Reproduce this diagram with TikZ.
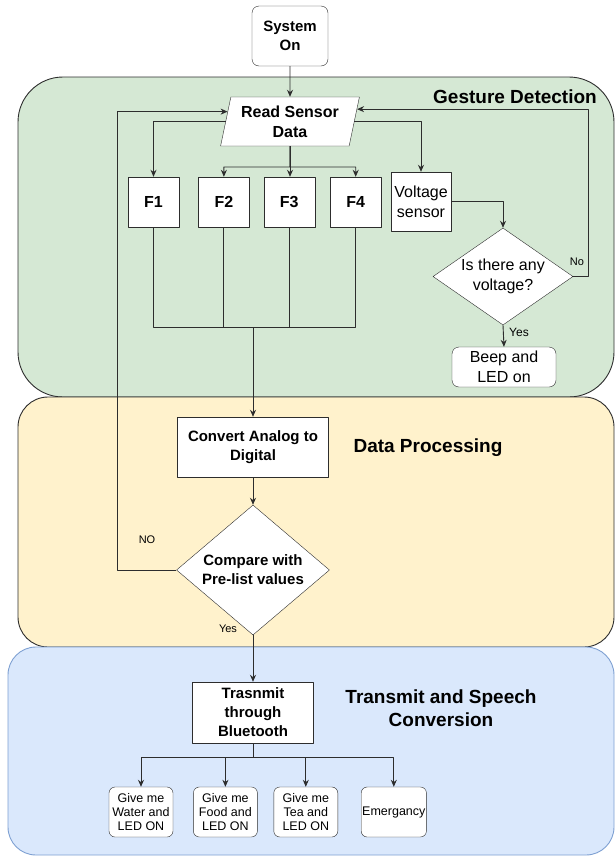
\documentclass[tikz,border=0pt]{standalone}
\usepackage{fontspec}
\setmainfont{Liberation Sans}
\usetikzlibrary{
  shapes.geometric,
  arrows.meta,
  positioning, calc
}
\definecolor{zonegreen}{RGB}{213,232,212}
\definecolor{zoneyellow}{RGB}{255,242,204}
\definecolor{zoneblue}{RGB}{218,232,252}
\definecolor{zonebluedraw}{RGB}{126,160,210}
\definecolor{edgegray}{RGB}{45,45,45}
\tikzset{
  basebox/.style={rectangle,draw=edgegray,fill=white,align=center,inner sep=1pt,
    font=\fontsize{15}{19}\selectfont\bfseries},
  roundbox/.style={basebox,rounded corners=7pt},
  plainbox/.style={basebox,font=\fontsize{16}{20}\selectfont},
  fbox/.style={basebox,minimum width=51pt,minimum height=50pt,font=\fontsize{16}{19}\selectfont\bfseries},
  givebox/.style={basebox,rounded corners=6pt,minimum width=64pt,minimum height=50pt,
    font=\fontsize{12.5}{14.3}\selectfont},
  iobox/.style={trapezium,trapezium left angle=75,trapezium right angle=105,
    trapezium stretches=true,
    draw=edgegray,fill=white,align=center,inner sep=0pt,
    font=\fontsize{16}{20}\selectfont\bfseries},
  decbox/.style={diamond,draw=edgegray,fill=white,align=center,inner sep=0pt},
  zonetitle/.style={align=center,font=\fontsize{19}{23}\selectfont\bfseries},
  lbl/.style={inner sep=0pt,font=\fontsize{11}{13}\selectfont},
  line/.style={draw=edgegray,line width=0.9pt},
  arr/.style={line,-{Stealth[length=7pt,width=6pt]}}
}

\begin{document}
\begin{tikzpicture}[x=1pt,y=-1pt,line join=round]
  \useasboundingbox (0,0) rectangle (615,857);
  % zones
  \draw[fill=zonegreen,draw=edgegray,line width=0.9pt,rounded corners=45pt] (18,77) rectangle (614,397);
  \draw[fill=zoneyellow,draw=edgegray,line width=0.9pt,rounded corners=30pt] (18,397) rectangle (614,647);
  \draw[fill=zoneblue,draw=zonebluedraw,line width=0.9pt,rounded corners=28pt] (8,647) rectangle (614,855);
  \node[zonetitle] (gtitle) at (515,97) {Gesture Detection};
  \node[zonetitle] (dtitle) at (428,448) {Data Processing};
  \node[zonetitle] (ttitle) at (441,708) {Transmit and Speech\\Conversion};

  % gesture detection
  \node[roundbox,minimum width=76pt,minimum height=60pt] (sys) at (290,36) {System\\On};
  \node[iobox,minimum width=139pt,minimum height=49pt] (read) at (290,121.5) {Read Sensor\\Data};
  \node[fbox] (f1) at (153.5,202) {F1};
  \node[fbox,right=19pt of f1] (f2) {F2};
  \node[fbox,right=14pt of f2] (f3) {F3};
  \node[fbox,right=15pt of f3] (f4) {F4};
  \node[plainbox,minimum width=60pt,minimum height=59pt,inner sep=0pt] (volt) at (421,201.5) {Voltage\\sensor};
  \node[decbox,aspect=1.44,minimum width=140pt,minimum height=97pt,
    font=\fontsize{16}{20}\selectfont] (ask) at (503,276.5) {Is there any\\voltage?};
  \node[plainbox,rounded corners=7pt,minimum width=104pt,minimum height=40pt] (beep) at (504,367) {Beep and\\LED on};

  % data processing
  \node[basebox,minimum width=151pt,minimum height=60pt] (conv) at (253,447) {Convert Analog to\\Digital};
  \node[decbox,aspect=1.18,minimum width=153pt,minimum height=130pt,
    font=\fontsize{15}{19}\selectfont\bfseries] (cmp) at (253,570) {Compare with\\Pre-list values};

  % transmit
  \node[basebox,minimum width=121pt,minimum height=61pt] (tx) at (253,712.5) {Trasnmit\\through\\Bluetooth};
  \node[givebox] (g1) at (141,812) {Give me\\Water and\\LED ON};
  \node[givebox,right=20pt of g1] (g2) {Give me\\Food and\\LED ON};
  \node[givebox,right=16pt of g2] (g3) {Give me\\Tea and\\LED ON};
  \node[givebox,right=23pt of g3] (g4) {Emergancy};

  \coordinate (fsplit) at (290,167);
  \coordinate (fjoin) at (253,327);
  \coordinate (gsplit) at (253,757);

  \draw[arr] (sys) -- (read);
  \draw[arr] (read.west) -| (f1.north);
  \foreach \f in {f2,f4} \draw[arr] (read.south) -- (fsplit) -| (\f.north);
  \draw[arr] (read.south) -- (read.south |- f3.north);
  \draw[arr] (read.east) -| (volt.north);
  \draw[arr] (volt.east) -| (ask.north);
  \draw[arr] (ask.east) -- ++(15,0) |- ($(read.top right corner)!0.25!(read.bottom right corner)$);
  \draw[arr] (ask.south) -- (beep.north);
  \foreach \f in {f1,f2,f3,f4} \draw[line] (\f.south) |- (fjoin);
  \draw[arr] (fjoin) -- (conv.north);
  \draw[arr] (conv) -- (cmp);
  \draw[arr] (cmp.west) -- ++(-59,0) |- ($(read.bottom left corner)!0.7!(read.top left corner)$);
  \draw[arr] (cmp.south) -- (tx.north);
  \draw[line] (tx.south) -- (gsplit);
  \foreach \g in {g1,g2,g3,g4} \draw[arr] (gsplit) -| (\g.north);

  \node[lbl] (nolbl) at (577,262) {No};
  \node[lbl,font=\fontsize{12}{14}\selectfont] (yeslbl) at (519,332) {Yes};
  \node[lbl] (nolbl2) at (147,540) {NO};
  \node[lbl] (yeslbl2) at (228,629) {Yes};
\end{tikzpicture}
\end{document}
